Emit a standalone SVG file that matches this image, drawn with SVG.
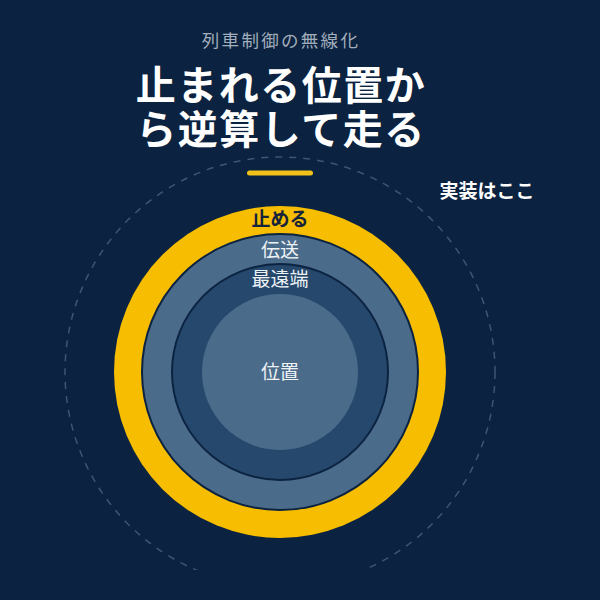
<svg xmlns="http://www.w3.org/2000/svg" width="600" height="600" viewBox="0 0 600 600">
<style>
text{font-family:"Noto Sans CJK JP","Noto Sans CJK SC",sans-serif;text-anchor:middle}
.title{font-size:40px;font-weight:bold;fill:#ffffff;letter-spacing:1.5px}
.lbl{font-size:19px;fill:#eef2f6}
</style>
<defs>
<clipPath id="clipDash"><rect x="0" y="0" width="600" height="570"/></clipPath>
</defs>
<rect x="0" y="0" width="600" height="600" fill="#0b2340"/>
<text x="281" y="47" style="font-size:17.5px;fill:#a3aebd;letter-spacing:2.3px">列車制御の無線化</text>
<text class="title"><tspan x="281" y="100">止まれる位置か</tspan><tspan x="281" y="144">ら逆算して走る</tspan></text>
<rect x="247" y="170.5" width="66" height="5" rx="2.5" fill="#f2c21b"/>
<g id="connectors"></g>
<g id="scope">
<circle cx="280" cy="372" r="215" fill="none" stroke="#3e5670" stroke-width="1.5" stroke-dasharray="7 7" clip-path="url(#clipDash)"/>
<text x="487" y="198" style="font-size:19px;font-weight:bold;fill:#ffffff">実装はここ</text>
</g>
<g id="stop">
<circle cx="280" cy="372" r="166" fill="#f7bd00"/>
<text x="280" y="226" style="font-size:19px;font-weight:bold;fill:#15243a">止める</text>
</g>
<g id="transmit">
<circle cx="280" cy="372" r="138" fill="#4b6b8a" stroke="#0b2340" stroke-width="2"/>
<text class="lbl" x="280" y="257">伝送</text>
</g>
<g id="farthest">
<circle cx="280" cy="372" r="108" fill="#25486c" stroke="#0b2340" stroke-width="2"/>
<text class="lbl" x="280" y="286">最遠端</text>
</g>
<g id="position">
<circle cx="280" cy="372" r="78" fill="#4b6b8a"/>
<text class="lbl" x="280" y="379">位置</text>
</g>
</svg>
